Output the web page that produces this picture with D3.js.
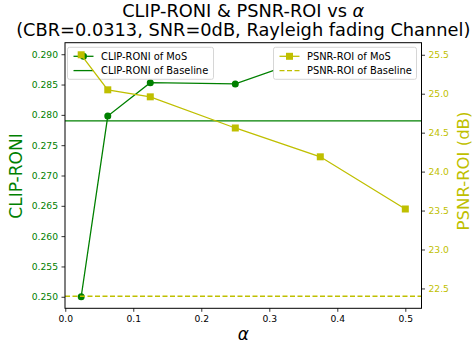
<!DOCTYPE html>
<html lang="en">
<head>
<meta charset="utf-8">
<title>CLIP-RONI & PSNR-ROI vs alpha</title>
<script src="https://d3js.org/d3.v7.min.js"></script>
<style>
  body { margin: 0; background: #fff; }
  text { font-family: "DejaVu Sans", sans-serif; }
</style>
</head>
<body>
<script>
  // data
  var alphas = [0.0234, 0.0625, 0.125, 0.25, 0.375, 0.5];
  var clipMoS = [0.2500, 0.2798, 0.2853, 0.2851, 0.2900, 0.2895];
  var clipBaseline = 0.2790;
  var psnrMoS = [25.50, 25.05, 24.96, 24.56, 24.19, 23.52];
  var psnrBaseline = 22.40;
  var xTicks = [0.0, 0.1, 0.2, 0.3, 0.4, 0.5];
  var leftTicks = [0.250, 0.255, 0.260, 0.265, 0.270, 0.275, 0.280, 0.285, 0.290];
  var rightTicks = [22.5, 23.0, 23.5, 24.0, 24.5, 25.0, 25.5];

  var width = 474, height = 352;
  var margin = { left: 65, right: 52.5, top: 42.7, bottom: 43.7 };
  var green = "#008000", yellow = "#bfbf00";

  var svg = d3.select("body").append("svg")
      .attr("width", width)
      .attr("height", height);

  var x = d3.scaleLinear().domain([-0.0004, 0.5238])
      .range([margin.left, width - margin.right]);
  var yL = d3.scaleLinear().domain([0.2481, 0.2919])
      .range([height - margin.bottom, margin.top]);
  var yR = d3.scaleLinear().domain([22.245, 25.655])
      .range([height - margin.bottom, margin.top]);

  var pts = alphas.map(function(a, i) { return { a: a, c: clipMoS[i], p: psnrMoS[i] }; });

  svg.append("clipPath").attr("id", "plot")
    .append("rect")
      .attr("x", margin.left).attr("y", margin.top)
      .attr("width", width - margin.left - margin.right)
      .attr("height", height - margin.top - margin.bottom);

  // ---- left axis (CLIP-RONI) ----
  var g1 = svg.append("g").attr("clip-path", "url(#plot)");
  g1.append("line")
      .attr("x1", margin.left).attr("x2", width - margin.right)
      .attr("y1", yL(clipBaseline)).attr("y2", yL(clipBaseline))
      .attr("stroke", green).attr("stroke-width", 1.3);
  g1.append("path")
      .datum(pts)
      .attr("fill", "none").attr("stroke", green).attr("stroke-width", 1.3)
      .attr("d", d3.line().x(function(d) { return x(d.a); }).y(function(d) { return yL(d.c); }));
  g1.selectAll("circle").data(pts).enter().append("circle")
      .attr("cx", function(d) { return x(d.a); })
      .attr("cy", function(d) { return yL(d.c); })
      .attr("r", 3.5).attr("fill", green);

  function legend(parent, lx, ly, w, items) {
    var lg = parent.append("g").attr("transform", "translate(" + lx + "," + ly + ")");
    lg.append("rect").attr("width", w).attr("height", 32).attr("rx", 2)
      .attr("fill", "#fff").attr("stroke", "#ccc").attr("stroke-width", 0.8);
    items.forEach(function(it, i) {
      var yy = 9 + i * 14.3;
      lg.append("line").attr("x1", 6).attr("x2", 26).attr("y1", yy).attr("y2", yy)
        .attr("stroke", it.color).attr("stroke-width", 1.3)
        .attr("stroke-dasharray", it.dash ? "5,2.5" : null);
      if (it.marker === "circle")
        lg.append("circle").attr("cx", 16).attr("cy", yy).attr("r", 3.5).attr("fill", it.color);
      if (it.marker === "square")
        lg.append("rect").attr("x", 12.5).attr("y", yy - 3.5).attr("width", 7).attr("height", 7).attr("fill", it.color);
      lg.append("text").attr("x", 33.5).attr("y", yy + 3.6)
        .attr("font-size", 9.9).attr("fill", "#000").text(it.label);
    });
  }

  legend(svg, 67.5, 47.3, 146, [
    { label: "CLIP-RONI of MoS", color: green, marker: "circle" },
    { label: "CLIP-RONI of Baseline", color: green }
  ]);

  // ---- right axis (PSNR-ROI) ----
  var g2 = svg.append("g").attr("clip-path", "url(#plot)");
  g2.append("line")
      .attr("x1", margin.left).attr("x2", width - margin.right)
      .attr("y1", yR(psnrBaseline)).attr("y2", yR(psnrBaseline))
      .attr("stroke", yellow).attr("stroke-width", 1.3)
      .attr("stroke-dasharray", "5,2.5");
  g2.append("path")
      .datum(pts)
      .attr("fill", "none").attr("stroke", yellow).attr("stroke-width", 1.3)
      .attr("d", d3.line().x(function(d) { return x(d.a); }).y(function(d) { return yR(d.p); }));
  g2.selectAll("rect").data(pts).enter().append("rect")
      .attr("x", function(d) { return x(d.a) - 3.5; })
      .attr("y", function(d) { return yR(d.p) - 3.5; })
      .attr("width", 7).attr("height", 7)
      .attr("fill", yellow);

  legend(svg, 273.5, 47.3, 143, [
    { label: "PSNR-ROI of MoS", color: yellow, marker: "square" },
    { label: "PSNR-ROI of Baseline", color: yellow, dash: true }
  ]);

  // frame
  svg.append("rect")
      .attr("x", margin.left).attr("y", margin.top)
      .attr("width", width - margin.left - margin.right)
      .attr("height", height - margin.top - margin.bottom)
      .attr("fill", "none").attr("stroke", "#000").attr("stroke-width", 1);

  // axes
  var xAxis = svg.append("g")
      .attr("transform", "translate(0," + (height - margin.bottom) + ")")
      .call(d3.axisBottom(x).tickValues(xTicks).tickFormat(d3.format(".1f")).tickSizeOuter(0).tickSize(3.5).tickPadding(3.5));
  var lAxis = svg.append("g")
      .attr("transform", "translate(" + margin.left + ",0)")
      .call(d3.axisLeft(yL).tickValues(leftTicks).tickFormat(d3.format(".3f")).tickSizeOuter(0).tickSize(3.5).tickPadding(3.5));
  var rAxis = svg.append("g")
      .attr("transform", "translate(" + (width - margin.right) + ",0)")
      .call(d3.axisRight(yR).tickValues(rightTicks).tickFormat(d3.format(".1f")).tickSizeOuter(0).tickSize(3.5).tickPadding(3.5));

  [xAxis, lAxis, rAxis].forEach(function(a) {
    a.select(".domain").remove();
    a.selectAll("text").attr("font-size", 9.2).attr("font-family", "DejaVu Sans, sans-serif");
    a.selectAll("line").attr("stroke", "#000").attr("stroke-width", 0.8);
  });
  xAxis.selectAll("text").attr("fill", "#000");
  lAxis.selectAll("text").attr("fill", green);
  rAxis.selectAll("text").attr("fill", yellow);

  // labels
  svg.append("text")
      .attr("x", (margin.left + width - margin.right) / 2).attr("y", 340)
      .attr("text-anchor", "middle").attr("font-size", 17).attr("font-style", "italic")
      .text("α");
  svg.append("text")
      .attr("transform", "translate(22,176) rotate(-90)")
      .attr("text-anchor", "middle").attr("font-size", 17).attr("fill", green)
      .text("CLIP-RONI");
  svg.append("text")
      .attr("transform", "translate(469,171) rotate(-90)")
      .attr("text-anchor", "middle").attr("font-size", 16.5).attr("fill", yellow)
      .text("PSNR-ROI (dB)");

  var cx = (margin.left + width - margin.right) / 2;
  var title = svg.append("text")
      .attr("text-anchor", "middle").attr("font-size", 17.8).attr("fill", "#000");
  title.append("tspan").attr("x", cx).attr("y", 16.8)
      .text("CLIP-RONI & PSNR-ROI vs ")
    .append("tspan").attr("font-style", "italic").text("α");
  title.append("tspan").attr("x", cx).attr("y", 36)
      .text("(CBR=0.0313, SNR=0dB, Rayleigh fading Channel)");
</script>
</body>
</html>
